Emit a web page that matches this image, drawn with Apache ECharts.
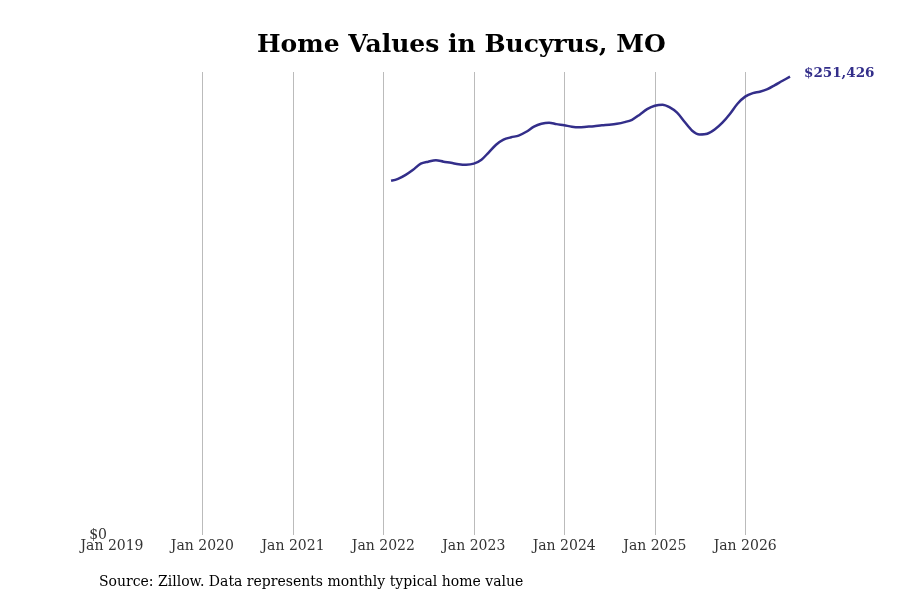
<!DOCTYPE html>
<html>
<head>
<meta charset="utf-8">
<script src="https://cdn.jsdelivr.net/npm/echarts@6/dist/echarts.min.js"></script>
<style>
  html, body { margin: 0; padding: 0; background: #fff; }
  #main { width: 900px; height: 600px; }
</style>
</head>
<body>
<div id="main"></div>
<script>
// monthly typical home value, Feb 2022 - Jul 2026
var months = [
    '2022-02', '2022-03', '2022-04', '2022-05', '2022-06', '2022-07', '2022-08', '2022-09', '2022-10', '2022-11', '2022-12',
    '2023-01', '2023-02', '2023-03', '2023-04', '2023-05', '2023-06', '2023-07', '2023-08', '2023-09', '2023-10', '2023-11', '2023-12',
    '2024-01', '2024-02', '2024-03', '2024-04', '2024-05', '2024-06', '2024-07', '2024-08', '2024-09', '2024-10', '2024-11', '2024-12',
    '2025-01', '2025-02', '2025-03', '2025-04', '2025-05', '2025-06', '2025-07', '2025-08', '2025-09', '2025-10', '2025-11', '2025-12',
    '2026-01', '2026-02', '2026-03', '2026-04', '2026-05', '2026-06', '2026-07'
];
var homeValues = [
    194300, 195400, 197600, 200400, 203700, 204800, 205600, 204800, 204200, 203400, 203100,
    203700, 205900, 209700, 214100, 216900, 218200, 219100, 221200, 224000, 225600, 226200, 225400,
    224800, 224000, 223700, 224000, 224300, 224800, 225100, 225600, 226500, 227800, 230600, 233600,
    235500, 236100, 234700, 231700, 226700, 221800, 219700, 220100, 222600, 226200, 231100, 236600,
    240500, 242400, 243200, 244600, 246800, 249200, 251426
];

var lineColor = '#332e8a';
var gridColor = '#bbb';
var serif = '"DejaVu Serif", serif';

var myChart = echarts.init(document.getElementById('main'));

myChart.setOption({
    animation: false,
    title: [
        {
            text: 'Home Values in Bucyrus, MO',
            left: 252,
            top: 28,
            textStyle: {
                fontFamily: serif,
                fontWeight: 'bold',
                fontSize: 25,
                color: '#000'
            }
        },
        {
            text: 'Source: Zillow. Data represents monthly typical home value',
            left: 94,
            top: 570,
            textStyle: {
                fontFamily: serif,
                fontWeight: 'normal',
                fontSize: 14,
                color: '#000'
            }
        }
    ],
    grid: {
        left: 112,
        right: 110,
        top: 72,
        bottom: 65
    },
    xAxis: {
        type: 'time',
        min: '2019-01-01',
        max: '2026-07-01',
        minInterval: 365 * 24 * 3600 * 1000,
        maxInterval: 366 * 24 * 3600 * 1000,
        axisLine: { show: false },
        axisTick: { show: false },
        axisLabel: {
            formatter: '{MMM} {yyyy}',
            fontFamily: serif,
            fontSize: 14,
            color: '#333',
            margin: 4,
            showMaxLabel: false
        },
        splitLine: {
            show: true,
            showMinLine: false,
            showMaxLine: false,
            // no line at the Jan 2019 edge nor at the right edge
            lineStyle: {
                color: ['rgba(0,0,0,0)', gridColor, gridColor, gridColor, gridColor,
                        gridColor, gridColor, gridColor, 'rgba(0,0,0,0)'],
                width: 1
            }
        }
    },
    yAxis: {
        type: 'value',
        min: 0,
        max: 254000,
        interval: 254000,
        axisLine: { show: false },
        axisTick: { show: false },
        splitLine: { show: false },
        axisLabel: {
            fontFamily: serif,
            fontSize: 14,
            color: '#333',
            margin: 5,
            formatter: function (v) {
                return v === 0 ? '$0' : '';
            }
        }
    },
    series: [
        {
            type: 'line',
            smooth: 0.3,
            symbol: 'none',
            lineStyle: { color: lineColor, width: 2.5 },
            data: months.map(function (m, i) {
                return [m + '-01', homeValues[i]];
            }),
            endLabel: {
                show: true,
                offset: [6, -3],
                fontFamily: serif,
                fontWeight: 'bold',
                fontSize: 13.5,
                color: lineColor,
                formatter: function (p) {
                    return '$' + p.value[1].toLocaleString('en-US');
                }
            }
        }
    ]
});
</script>
</body>
</html>
